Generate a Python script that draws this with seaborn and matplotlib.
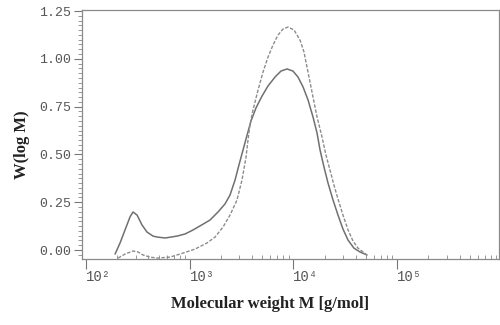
import numpy as np
import pandas as pd
import seaborn as sns
import matplotlib.pyplot as plt
from matplotlib.ticker import MultipleLocator, LogLocator, FixedLocator, NullFormatter

# values (log10 of molecular weight, W(log M))
solid_logm = [2.280, 2.328, 2.376, 2.424, 2.453, 2.492, 2.540, 2.588, 2.646, 2.685,
              2.762, 2.878, 2.955, 3.032, 3.099, 3.196, 3.273, 3.340, 3.389, 3.437,
              3.475, 3.514, 3.553, 3.591, 3.639, 3.697, 3.755, 3.823, 3.880, 3.938,
              3.996, 4.044, 4.093, 4.141, 4.189, 4.228, 4.257, 4.295, 4.334, 4.382,
              4.430, 4.478, 4.527, 4.584, 4.642, 4.710]
solid_w = [-0.021, 0.037, 0.105, 0.173, 0.199, 0.183, 0.131, 0.094, 0.073, 0.068,
           0.063, 0.073, 0.084, 0.105, 0.126, 0.157, 0.199, 0.241, 0.288, 0.366,
           0.445, 0.523, 0.601, 0.675, 0.743, 0.805, 0.858, 0.905, 0.936, 0.947,
           0.936, 0.905, 0.853, 0.785, 0.696, 0.612, 0.523, 0.434, 0.350, 0.262,
           0.183, 0.110, 0.052, 0.010, -0.010, -0.026]

dash_logm = [2.309, 2.376, 2.453, 2.501, 2.550, 2.617, 2.685, 2.810, 2.935, 3.051,
             3.167, 3.244, 3.321, 3.389, 3.456, 3.504, 3.543, 3.562, 3.581, 3.610,
             3.659, 3.707, 3.755, 3.803, 3.851, 3.900, 3.948, 4.006, 4.064, 4.102,
             4.131, 4.160, 4.189, 4.228, 4.276, 4.314, 4.353, 4.391, 4.430, 4.478,
             4.527, 4.575, 4.623, 4.671, 4.710]
dash_w = [-0.042, -0.021, -0.005, -0.010, -0.026, -0.037, -0.042, -0.037, -0.016, 0.005,
          0.037, 0.068, 0.120, 0.183, 0.262, 0.366, 0.486, 0.575, 0.654, 0.732,
          0.837, 0.931, 1.009, 1.072, 1.124, 1.156, 1.166, 1.151, 1.098, 1.036,
          0.957, 0.879, 0.800, 0.696, 0.591, 0.497, 0.418, 0.340, 0.267, 0.183,
          0.105, 0.047, 0.010, -0.010, -0.026]

xticks = [1e2, 1e3, 1e4, 1e5]
xticklabels = ["10²", "10³", "10⁴", "10⁵"]
yticks = [0.0, 0.25, 0.5, 0.75, 1.0, 1.25]

solid = pd.DataFrame({"M": 10 ** np.array(solid_logm), "W": solid_w})
dashed = pd.DataFrame({"M": 10 ** np.array(dash_logm), "W": dash_w})

sns.set_style("white")
fig = plt.figure(figsize=(5, 3.25), dpi=100)
ax = fig.add_axes([0.164, 0.203, 0.834, 0.766])

sns.lineplot(data=solid, x="M", y="W", ax=ax, color="#707070", lw=1.1,
             sort=False, estimator=None)
sns.lineplot(data=dashed, x="M", y="W", ax=ax, color="#8c8c8c", lw=1.0,
             sort=False, estimator=None, linestyle=(0, (2.5, 1.2)))

ax.set_xscale("log")
ax.set_xlim(10 ** 1.961, 10 ** 5.983)
ax.set_ylim(-0.047, 1.255)

ax.xaxis.set_major_locator(FixedLocator(xticks))
ax.xaxis.set_minor_locator(LogLocator(base=10, subs=np.arange(2, 10), numticks=20))
ax.xaxis.set_minor_formatter(NullFormatter())
ax.set_xticklabels(xticklabels, family=["Liberation Mono", "DejaVu Sans Mono"],
                   fontsize=10, color="#555555", ha="left")
ax.set_yticks(yticks)
ax.set_yticklabels([f"{v:.2f}" for v in yticks], family="Liberation Mono",
                   fontsize=9.5, color="#555555")
ax.yaxis.set_minor_locator(MultipleLocator(0.025))

ax.tick_params(axis="x", which="major", direction="out", length=7, width=0.8,
               color="#777777", pad=1)
ax.tick_params(axis="x", which="minor", direction="in", length=3, width=0.6,
               color="#888888")
ax.tick_params(axis="y", which="major", direction="out", length=6, width=0.8,
               color="#777777", pad=2)
ax.tick_params(axis="y", which="minor", direction="out", length=3, width=0.6,
               color="#888888")
ax.tick_params(bottom=True, left=True, which="both")

for s in ax.spines.values():
    s.set_color("#8a8a8a")
    s.set_linewidth(0.9)

ax.set_xlabel("Molecular weight M [g/mol]", family="Liberation Serif",
              fontweight="bold", fontsize=12, color="#222222")
ax.set_ylabel("W(log M)", family="Liberation Serif", fontweight="bold",
              fontsize=12, color="#222222")
ax.xaxis.set_label_coords(0.451, -0.15)
ax.yaxis.set_label_coords(-0.125, 0.458)

fig.savefig("out.png", dpi=100)
